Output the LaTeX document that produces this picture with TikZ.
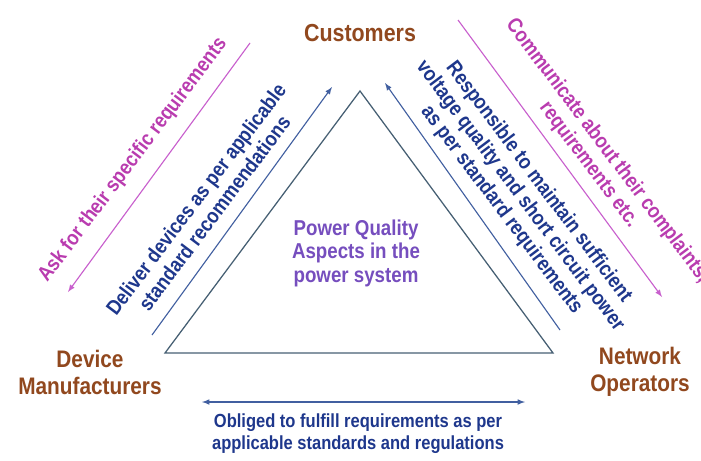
\documentclass[tikz,border=0pt]{standalone}
\usepackage{fontspec}
\setmainfont[FakeStretch=0.87]{Liberation Sans}
\usetikzlibrary{arrows}
\definecolor[named]{PQBrown}{RGB}{145,72,30}
\definecolor[named]{PQBlue}{RGB}{30,55,140}
\definecolor[named]{PQLine}{RGB}{65,95,160}
\definecolor[named]{PQPink}{RGB}{185,60,175}
\definecolor[named]{PQPinkLine}{RGB}{200,95,205}
\definecolor[named]{PQPurple}{RGB}{118,78,190}
\definecolor[named]{PQTri}{RGB}{70,95,115}
\tikzset{
  party/.style={inner sep=0pt,align=center,text=PQBrown,
    font=\fontsize{17}{19.2}\selectfont\bfseries},
  note/.style={inner sep=0pt,align=center,
    font=\fontsize{14.8}{16.5}\selectfont\bfseries},
  blueline/.style={PQLine,line width=0.8pt},
  pinkline/.style={PQPinkLine,line width=0.8pt}
}

\begin{document}
\begin{tikzpicture}[x=0.025cm,y=-0.025cm,>=latex]
      \useasboundingbox (0,0) rectangle (701,460);
      % parties
      \node[party,font=\fontsize{17.5}{20}\selectfont\bfseries] (cust) at (360,33) {Customers};
      \node[party] (dev) at (90,372) {Device\\Manufacturers};
      \node[party] (net) at (640,372) {Network\\Operators};
      % triangle
      \draw[PQTri,line width=0.9pt] (165,353) coordinate (tl) -- (360,91) coordinate (tt)
        -- (553,353) coordinate (tr) -- cycle;
      \node[inner sep=0pt,align=center,text=PQPurple,font=\fontsize{15.3}{16.7}\selectfont\bfseries]
        (pq) at (356,253) {Power Quality\\Aspects in the\\power system};
      % customers side
      \coordinate (askA) at (250,43);
      \coordinate (askB) at (68,292);
      \draw[pinkline,->] (askA) -- (askB);
      \node[note,text=PQPink,rotate=53] (ask) at (133,160) {Ask for their specific requirements};
      \coordinate (comA) at (458,20);
      \coordinate (comB) at (662,297);
      \draw[pinkline,->] (comA) -- (comB);
      \node[note,text=PQPink,rotate=-53] (com) at (598,158)
        {Communicate about their complaints,\\requirements etc.};
      % supply side
      \coordinate (delA) at (152,335);
      \coordinate (delB) at (332,87);
      \draw[blueline,->] (delA) -- (delB);
      \node[note,text=PQBlue,rotate=53] (del) at (205,206)
        {Deliver devices as per applicable\\standard recommendations};
      \coordinate (resA) at (560,330);
      \coordinate (resB) at (385,83);
      \draw[blueline,->] (resA) -- (resB);
      \node[note,text=PQBlue,rotate=-53] (res) at (520,196)
        {Responsible to maintain sufficient\\voltage quality and short circuit power\\as per standard requirements};
      % bottom
      \coordinate (oblA) at (202,402);
      \coordinate (oblB) at (525,402);
      \draw[blueline,<->] (oblA) -- (oblB);
      \node[note,text=PQBlue,font=\fontsize{13.5}{15.6}\selectfont\bfseries] (obl) at (358,434)
        {Obliged to fulfill requirements as per\\applicable standards and regulations};
    \end{tikzpicture}
\end{document}
